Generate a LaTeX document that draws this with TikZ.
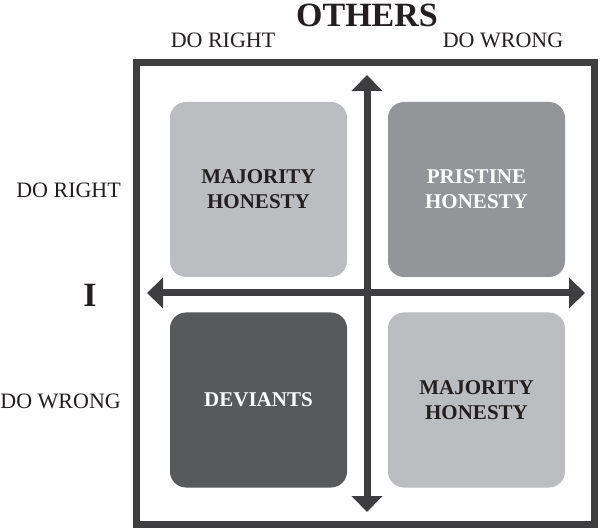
\documentclass[tikz,border=0pt]{standalone}
\usepackage{fontspec}
\setmainfont{Liberation Serif}
\usetikzlibrary{arrows.meta}
\definecolor{lightg}{HTML}{BCBDC0}
\definecolor{midg}{HTML}{939598}
\definecolor{darkg}{HTML}{58595B}
\definecolor{framec}{HTML}{3E3E40}
\definecolor{inkc}{HTML}{231F20}
\tikzset{
  quad/.style={rounded corners=16pt, minimum width=177pt, minimum height=175pt, inner sep=0pt,
    align=center, font=\fontsize{21}{25}\selectfont\bfseries},
  lab/.style={font=\fontsize{22}{26}\selectfont, text=inkc, inner sep=0pt},
  big/.style={font=\fontsize{34}{38}\selectfont\bfseries, text=inkc, inner sep=0pt},
  axis/.style={draw=framec, line width=7pt, {Triangle[width=30pt,length=16pt]}-{Triangle[width=30pt,length=16pt]}}
}
\begin{document}
\begin{tikzpicture}[x=1pt,y=-1pt]
\useasboundingbox (0,0) rectangle (600,529);
\node[draw=framec, line width=7pt, minimum width=458pt, minimum height=461pt, inner sep=0pt] (frame) at (365,293.5) {};
\node[quad, fill=lightg, text=inkc] (tl) at (258.5,189.5) {MAJORITY\\HONESTY};
\node[quad, fill=midg, text=white] (tr) at (476.5,189.5) {PRISTINE\\HONESTY};
\node[quad, fill=darkg, text=white] (bl) at (258.5,400) {DEVIANTS};
\node[quad, fill=lightg, text=inkc] (br) at (476.5,400) {MAJORITY\\HONESTY};
\coordinate (vt) at (367,75);
\coordinate (vb) at (367,512);
\coordinate (hl) at (147,293);
\coordinate (hr) at (585,293);
\draw[axis] (vt) -- (vb);
\draw[axis] (hl) -- (hr);
\node[big, anchor=base] (others) at (367,27) {OTHERS};
\node[lab, anchor=base] (tdr) at (223,48) {DO RIGHT};
\node[lab, anchor=base] (tdw) at (503,48) {DO WRONG};
\node[lab, anchor=base east] (ldr) at (121,198) {DO RIGHT};
\node[lab, anchor=base east] (ldw) at (121,408) {DO WRONG};
\node[big, anchor=base] (i) at (90,307) {I};
\end{tikzpicture}
\end{document}
